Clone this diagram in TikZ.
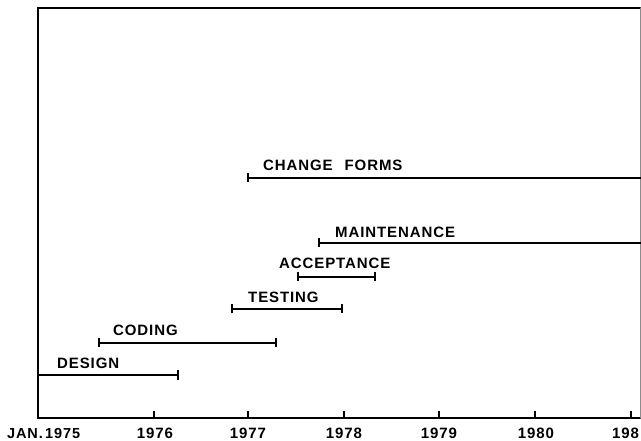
\documentclass[tikz,border=0pt]{standalone}
\usepackage{fontspec}
\setmainfont{Liberation Sans}[LetterSpace=6,BoldFont={Liberation Sans Bold}]
\usetikzlibrary{arrows.meta}
\begin{document}
\begin{tikzpicture}[x=1pt,y=-1pt,
  lbl/.style={anchor=base west,inner sep=0pt,font=\fontsize{15}{15}\selectfont\bfseries},
  yr/.style={anchor=base,inner sep=0pt,font=\fontsize{15}{15}\selectfont\bfseries},
  bar/.style={line width=1.6pt},
  capL/.style={{Bar[width=9pt,line width=2.2pt]}-},
  capR/.style={-{Bar[width=9pt,line width=2.2pt]}},
  capB/.style={{Bar[width=9pt,line width=2.2pt]}-{Bar[width=9pt,line width=2.2pt]}},
  frame/.style={line width=2.6pt,line cap=round},
  tick/.style={line width=1.4pt}]
\useasboundingbox (0,0) rectangle (641,441);
% frame
\coordinate (tl) at (38,8);
\coordinate (bl) at (38,418);
\coordinate (tr) at (640,8);
\coordinate (br) at (640,418);
\draw[frame] (br) -- (bl) -- (tl) -- (tr);
\draw[line width=0.6pt,black!45] (tr) -- (br);
% ticks
\foreach \n/\x in {t76/154,t77/248,t78/344,t79/439,t80/535,t81/631}{
  \coordinate (\n) at (\x,418);
  \draw[tick] (\n) -- ++(0,-7);
}
% year labels
\node[anchor=base west,inner sep=0pt,font=\fontsize{14.5}{14.5}\selectfont\bfseries] (y75) at (7,438) {JAN.\,1975};
\node[yr] (y76) at (155,438) {1976};
\node[yr] (y77) at (248,438) {1977};
\node[yr] (y78) at (344,438) {1978};
\node[yr] (y79) at (439,438) {1979};
\node[yr] (y80) at (536,438) {1980};
\node[anchor=base west,inner sep=0pt,font=\fontsize{15}{15}\selectfont\bfseries] (y81) at (612,438) {198};
% bars
\coordinate (dA) at (38,375);  \coordinate (dB) at (179,375);
\coordinate (cA) at (98,343);  \coordinate (cB) at (277,343);
\coordinate (tA) at (231,309); \coordinate (tB) at (343,309);
\coordinate (aA) at (297,277); \coordinate (aB) at (376,277);
\coordinate (mA) at (318,243); \coordinate (mB) at (641,243);
\coordinate (fA) at (247,178); \coordinate (fB) at (641,178);
\draw[bar,capR] (dA) -- (dB);
\draw[bar,capB] (cA) -- (cB);
\draw[bar,capB] (tA) -- (tB);
\draw[bar,capB] (aA) -- (aB);
\draw[bar,capL] (mA) -- (mB);
\draw[bar,capL] (fA) -- (fB);
% labels
\node[lbl] (ld) at (57,368) {DESIGN};
\node[lbl] (lc) at (113,335) {CODING};
\node[lbl] (lt) at (248,302) {TESTING};
\node[lbl] (la) at (279,269) {ACCEPTANCE};
\node[lbl] (lm) at (335,238) {MAINTENANCE};
\node[lbl] (lf) at (263,171) {CHANGE\hspace{12pt}FORMS};
\end{tikzpicture}
\end{document}
